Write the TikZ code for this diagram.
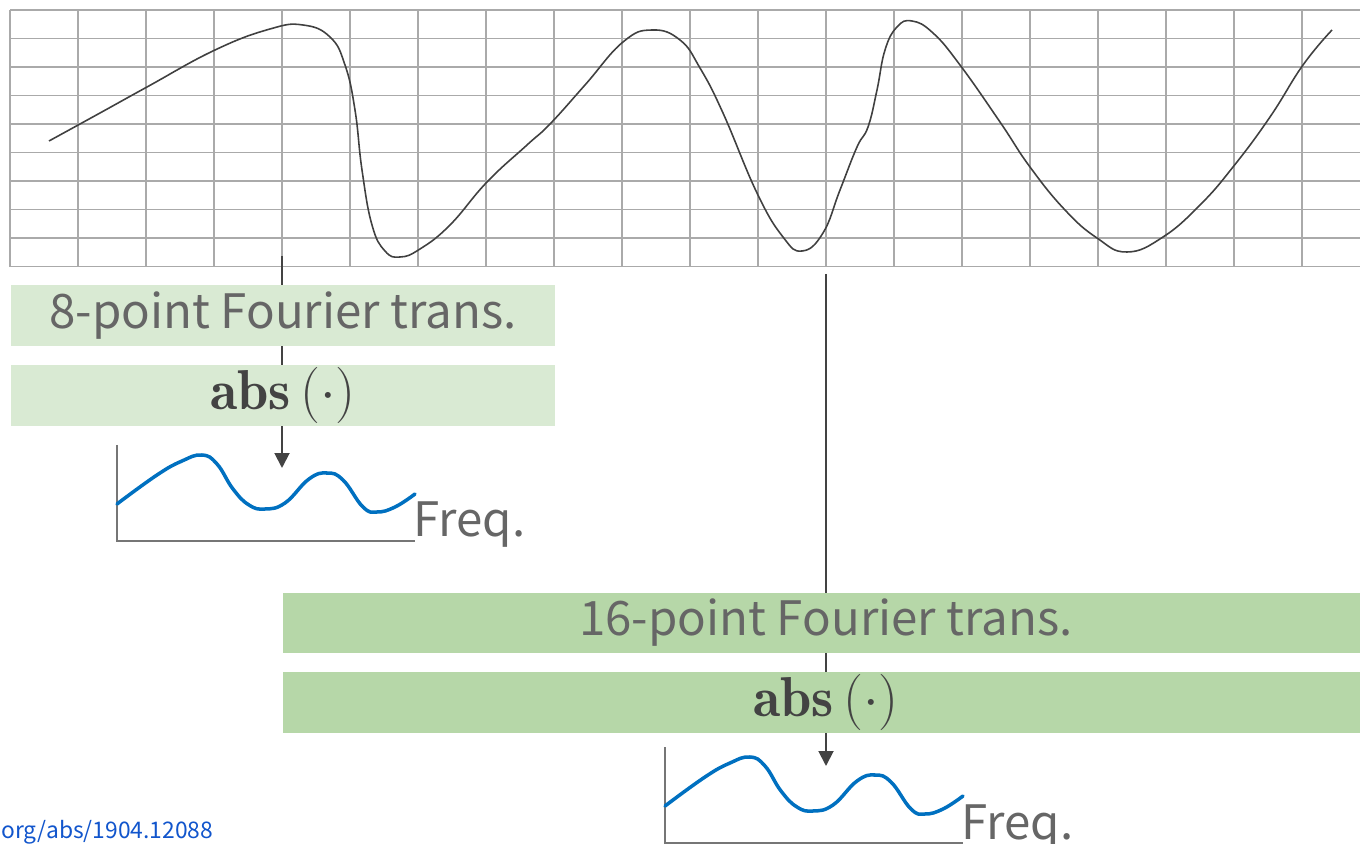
\RequirePackage{fix-cm}
\documentclass[tikz,border=0pt]{standalone}
\usepackage{fontspec}
\usepackage{amsmath}
\usepackage{tikz}
\usetikzlibrary{arrows.meta, positioning}
\newfontfamily\slidefont{Noto Sans CJK JP}
\definecolor{gridgray}{RGB}{170,170,170}
\definecolor{wavedark}{RGB}{64,64,64}
\definecolor{labelgray}{RGB}{102,102,102}
\definecolor{absdark}{RGB}{67,67,67}
\definecolor{paleg}{RGB}{217,234,211}
\definecolor{midg}{RGB}{182,215,168}
\definecolor{specblue}{RGB}{0,112,192}
\definecolor{axisgray}{RGB}{118,118,118}
\definecolor{linkblue}{RGB}{17,85,204}
\tikzset{
  gridline/.style={draw=gridgray, line width=1.1pt},
  signal/.style={draw=wavedark, line width=0.9pt},
  ftbox/.style={rectangle, inner sep=0pt, minimum height=1.22cm,
    font=\slidefont\fontsize{27}{30}\selectfont, text=labelgray},
  absbox/.style={ftbox, font=\fontsize{32}{36}\selectfont, text=absdark},
  arrow/.style={-{Triangle[width=0.3cm, length=0.3cm]}, line width=1.1pt, color=absdark},
  spec/.style={draw=specblue, line width=2pt, line cap=round},
  axis/.style={draw=axisgray, line width=0.8pt},
  freq/.style={anchor=base west, inner sep=0pt,
    font=\slidefont\fontsize{27}{30}\selectfont, text=labelgray}
}

\begin{document}
\begin{tikzpicture}[x=0.02cm, y=-0.02cm]
  \useasboundingbox (0,0) rectangle (1360,844);
  % recorded signal on grid paper
  \foreach \i in {0,...,19}
    \draw[gridline] ({10+68*\i},10) -- ({10+68*\i},267);
  \foreach \j in {0,...,9}
    \draw[gridline] (10,{10+28.5*\j}) -- (1360,{10+28.5*\j});
  \draw[signal] plot[smooth, tension=0.75] coordinates {
    (49,141) (100,113) (147,87) (215,50) (270,29) (303,25) (330,37) (345,65)
    (355,110) (362,170) (372,225) (385,251) (400,257) (420,249) (450,225)
    (487,182) (527,145) (550,124) (585,85) (623,42) (652,30) (680,40) (700,68)
    (723,113) (757,193) (783,237) (802,251) (823,233) (840,190) (857,147)
    (868,127) (877,90) (885,50) (897,27) (912,21) (933,33) (960,65)
    (1000,122) (1030,167) (1065,210) (1097,238) (1127,252) (1163,237)
    (1200,205) (1233,167) (1270,117) (1303,65) (1332,30)};

  % taps and arrows (under the boxes)
  \coordinate (tapa) at (282,256);
  \coordinate (tipa) at (282,468);
  \coordinate (tapb) at (826,274);
  \coordinate (tipb) at (826,766);
  \draw[arrow] (tapa) -- (tipa);
  \draw[arrow] (tapb) -- (tipb);

  % transform blocks
  \node[ftbox, fill=paleg, minimum width=10.88cm] (fta) at (283,315.5) {8-point Fourier trans.};
  \node[absbox, fill=paleg, minimum width=10.88cm, below=0.36cm of fta] (absa) {$\mathbf{abs}\left(\cdot\right)$};
  \node[ftbox, fill=midg, minimum width=21.72cm] (ftb) at (826,623) {16-point Fourier trans.};
  \node[absbox, fill=midg, minimum width=21.72cm, below=0.36cm of ftb] (absb) {$\mathbf{abs}\left(\cdot\right)$};

  % magnitude spectra
  \foreach \ox/\oy/\nm in {117/541/a, 665/843/b} {
    \begin{scope}[shift={(\ox,\oy)}]
      \draw[axis] (0,-96) -- (0,0) -- (298,0);
      \draw[spec] plot[smooth, tension=0.75] coordinates {
        (0,-37) (40,-66) (65,-80) (85,-86) (100,-77) (116,-52) (132,-36)
        (148,-32) (168,-38) (192,-62) (210,-68) (226,-61) (246,-34) (260,-29)
        (278,-34) (298,-47)};
      \node[freq] (freq\nm) at (296,-4) {Freq.};
    \end{scope}
  }

  \node[anchor=base west, inner sep=0pt, font=\slidefont\fontsize{13}{15}\selectfont,
    text=linkblue] (src) at (1,838) {org/abs/1904.12088};
\end{tikzpicture}
\end{document}
